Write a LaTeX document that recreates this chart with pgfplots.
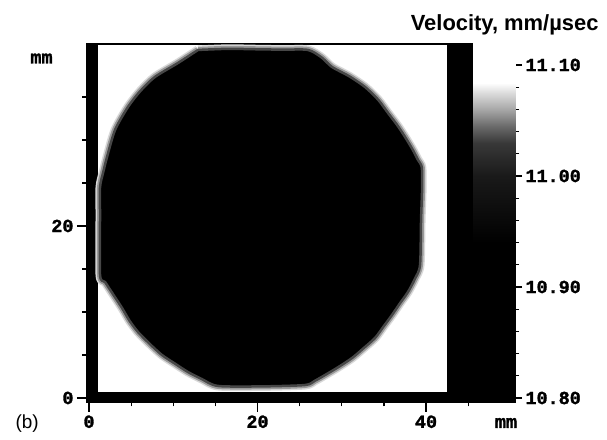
\documentclass[border=0pt]{standalone}
\usepackage{pgfplots}
\pgfplotsset{compat=1.18}
\usepackage{pgfplotstable}
\usepackage{fontspec}
\setmainfont{Liberation Sans}
\newfontfamily\monofam{Liberation Mono}[BoldFeatures={FakeBold=1.6}]
\newcommand\tickfont{\monofam\bfseries\fontsize{18.5}{20}\selectfont}
\newcommand\titlefont{\bfseries\fontsize{22}{24}\selectfont}

% outline of the low-velocity region (mm)
\pgfplotstableread{
x y
12.94 40.47
16.50 40.60
19.70 40.55
23.00 40.50
25.99 40.47
27.60 39.60
28.84 38.49
30.90 37.40
32.76 36.16
34.30 34.70
35.49 33.14
36.60 31.70
37.51 30.35
38.40 28.90
39.05 27.67
39.50 26.80
39.53 24.19
39.41 20.70
39.29 15.47
38.70 13.90
37.86 12.33
36.90 11.00
35.96 9.65
34.95 8.30
33.95 6.98
32.60 5.80
31.22 4.65
29.60 3.60
28.01 2.67
26.80 2.00
25.64 1.51
20.50 1.35
15.31 1.40
13.40 2.20
11.75 3.02
10.20 4.00
8.66 5.00
7.20 6.30
5.82 7.67
4.80 9.00
3.92 10.47
2.90 12.00
1.90 13.49
1.31 14.30
1.31 21.28
1.31 24.53
1.70 26.30
2.14 28.02
3.09 31.16
4.63 33.84
6.10 35.70
7.83 37.33
10.56 38.95
12.94 40.47
}\diskoutline

\begin{document}
\begin{tikzpicture}
\useasboundingbox (-87bp,-38bp) rectangle (520bp,402bp);
\begin{axis}[
  name=map, at={(0,0)}, anchor=south west,
  scale only axis, width=428bp, height=358bp,
  xmin=-0.237, xmax=50.56, ymin=-0.465, ymax=41.16,
  axis line style={line width=1.2bp},
  xtick={0,20,40}, xticklabels={0,20,40},
  minor xtick={5,10,15,25,30,35,45},
  ytick={0,20}, yticklabels={0,20},
  minor ytick={5,10,15,25,30,35},
  xtick pos=bottom, ytick pos=left,
  tick align=outside,
  major tick length=10bp, minor tick length=4.5bp,
  every tick/.style={line width=1.2bp, black},
  tick label style={font=\tickfont},
]
% edge strips of the scan
\addplot[fill=black, draw=none] coordinates {(-1,-1) (1.07,-1) (1.07,42) (-1,42)};
\addplot[fill=black, draw=none] coordinates {(-1,-1) (52,-1) (52,0.70) (-1,0.70)};
\addplot[fill=black, draw=none] coordinates {(42.49,-1) (45.58,-1) (45.58,42) (42.49,42)};
% disk with a soft, graded edge
\addplot[draw=black!15, line width=9bp, line join=round, smooth, tension=0.45] table {\diskoutline};
\addplot[draw=black!40, line width=6bp, line join=round, smooth, tension=0.45] table {\diskoutline};
\addplot[fill=black, draw=black!72, line width=2.5bp, line join=round, smooth, tension=0.45] table {\diskoutline};
\end{axis}

\begin{axis}[
  at={(0,0)}, anchor=south west,
  scale only axis, width=428bp, height=358bp,
  xmin=-0.237, xmax=50.56, ymin=10.7964, ymax=11.1189,
  hide x axis, axis y line*=right,
  axis line style={line width=1bp},
  ytick={10.8,10.9,11.0,11.1}, yticklabels={10.80,10.90,11.00,11.10},
  minor ytick={10.82,10.84,10.86,10.88,10.92,10.94,10.96,10.98,11.02,11.04,11.06,11.08},
  tick align=outside,
  major tick length=7bp, minor tick length=4bp,
  every tick/.style={line width=1.2bp, black},
  tick label style={font=\tickfont},
  colormap={velo}{gray(0pt)=(0); gray(150pt)=(0); gray(210pt)=(0.1); gray(240pt)=(0.22); gray(255pt)=(0.42); gray(270pt)=(0.66); gray(285pt)=(0.86); gray(294pt)=(1); gray(335pt)=(1)},
  point meta min=10.79, point meta max=11.125,
]
\addplot[surf, shader=interp, point meta=y, mesh/cols=2] table {
x y
45.58 10.79
51.00 10.79
45.58 10.94
51.00 10.94
45.58 11.00
51.00 11.00
45.58 11.03
51.00 11.03
45.58 11.045
51.00 11.045
45.58 11.06
51.00 11.06
45.58 11.075
51.00 11.075
45.58 11.084
51.00 11.084
45.58 11.125
51.00 11.125
};
\end{axis}

\node[anchor=base east, font=\titlefont] at ([xshift=87bp,yshift=13bp]map.north east) {Velocity, mm/µsec};
\node[anchor=base west, font=\fontsize{19}{21}\selectfont] at ([xshift=-75bp,yshift=-26bp]map.south west) {(b)};
\node[font=\tickfont] at ([xshift=-45.5bp,yshift=-14.5bp]map.north west) {mm};
\node[font=\tickfont] at ([xshift=-9bp,yshift=-21bp]map.south east) {mm};
\end{tikzpicture}
\end{document}
